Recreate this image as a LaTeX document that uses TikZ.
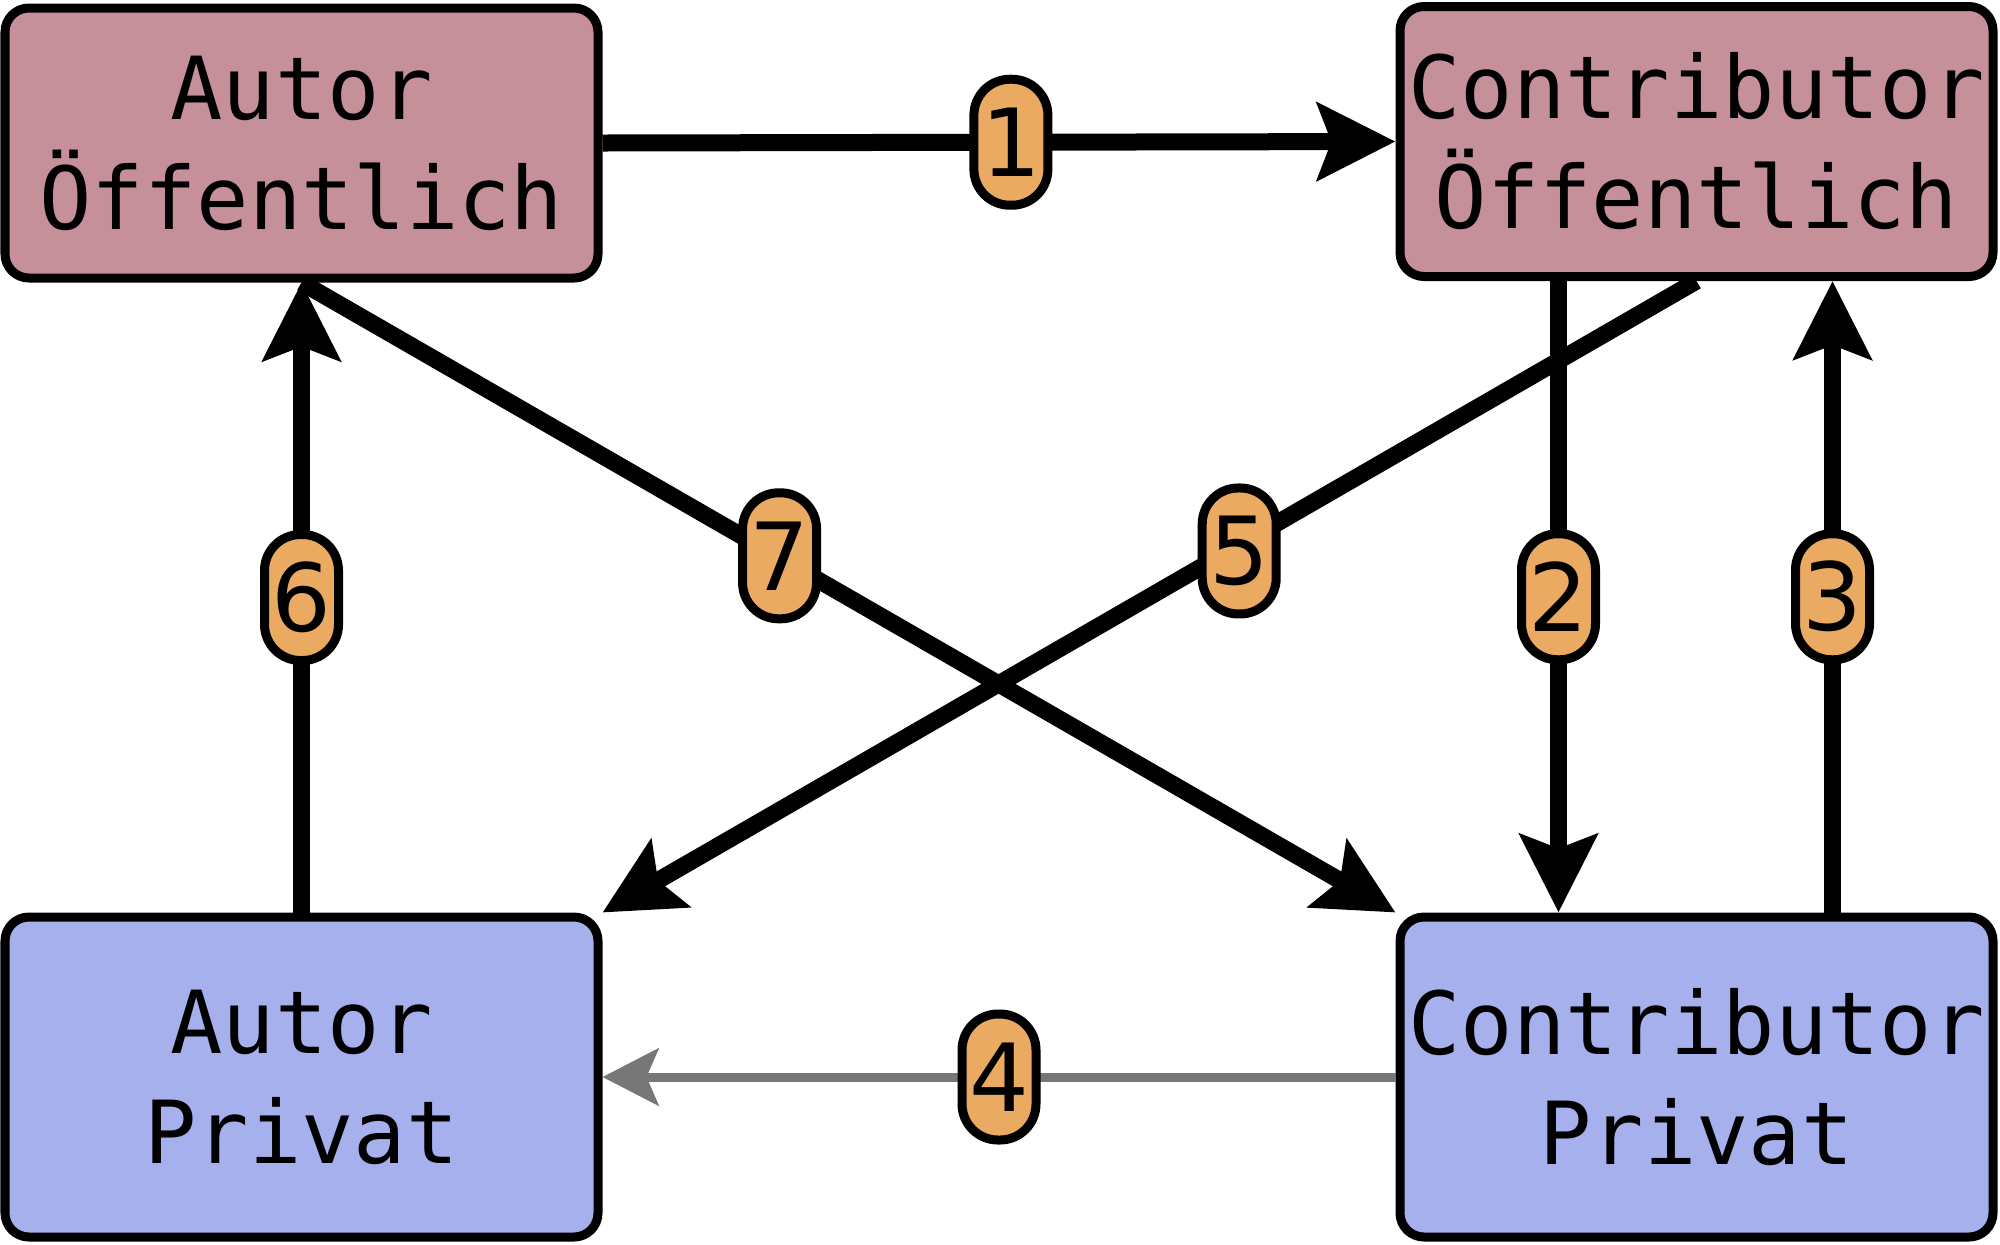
\documentclass[tikz,border=0pt]{standalone}
\usepackage{fontspec}
\newfontfamily\boxfont{DejaVu Sans Mono}
\newfontfamily\numfont{DejaVu Sans}
\usetikzlibrary{arrows.meta}
\definecolor{pubfill}{HTML}{C5909A}
\definecolor{privfill}{HTML}{A6B0EC}
\definecolor{pillfill}{HTML}{EAAA62}
\definecolor{grayline}{HTML}{777777}
\tikzset{
  statebox/.style={draw=black, line width=4.5pt, rounded corners=12pt,
    minimum width=296.5pt, inner sep=0pt, align=center,
    font=\boxfont\fontsize{43.5}{55}\selectfont},
  pubbox/.style={statebox, fill=pubfill, minimum height=135pt},
  privbox/.style={statebox, fill=privfill, minimum height=160pt},
  pill/.style={draw=black, fill=pillfill, line width=4.5pt, rounded corners=18pt,
    minimum width=37pt, minimum height=63pt, inner sep=0pt,
    font=\numfont\fontsize{47}{50}\selectfont},
  flow/.style={draw=black, line width=8.5pt,
    -{Stealth[length=39pt, width=38.5pt, inset=7pt]}},
  weakflow/.style={draw=grayline, line width=4.5pt,
    -{Stealth[length=28pt, width=28.5pt, inset=6pt]}}
}
\begin{document}
\begin{tikzpicture}[x=0.5pt, y=-0.5pt]
\useasboundingbox (0,0) rectangle (2000,1244);
\node[pubbox] (AO) at (301.5,143) {Autor\\Öffentlich};
\node[pubbox] (CO) at (1696.5,141.5) {Contributor\\Öffentlich};
\node[privbox] (AP) at (301.5,1077) {Autor\\Privat};
\node[privbox] (CP) at (1696.5,1077) {Contributor\\Privat};

\draw[flow] (AO.east) -- node[pill, pos=0.515] (l1) {1} (CO.west);
\draw[flow] ([xshift=-69pt]CO.south) -- node[pill, pos=0.5] (l2) {2} ([xshift=-69pt]CP.north);
\draw[flow] ([xshift=68pt]CP.north) -- node[pill, pos=0.5] (l3) {3} ([xshift=68pt]CO.south);
\draw[weakflow] (CP.west) -- node[pill, pos=0.5] (l4) {4} (AP.east);
\draw[flow] (AP.north) -- node[pill, pos=0.5] (l6) {6} (AO.south);
\draw[flow] (AO.south) -- node[pill, pos=0.437, yshift=1pt] (l7) {7} (CP.north west);
\draw[flow] (CO.south) -- node[pill, pos=0.418, yshift=-3pt] (l5) {5} (AP.north east);
\end{tikzpicture}
\end{document}
